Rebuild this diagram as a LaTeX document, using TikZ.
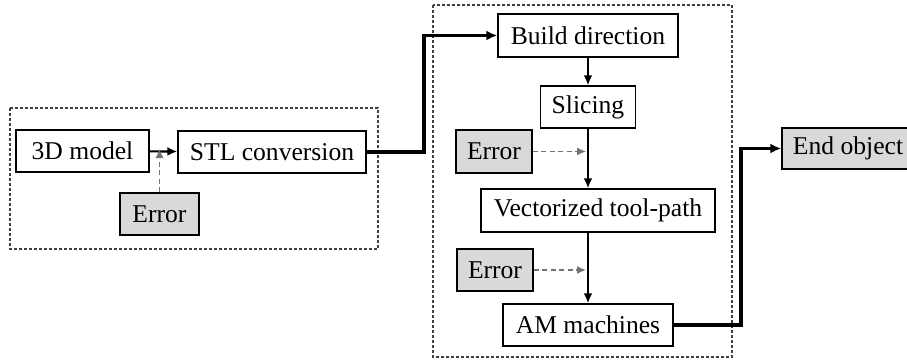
\documentclass[tikz,border=0pt]{standalone}
\usepackage{fontspec}
\setmainfont{Liberation Serif}
\usetikzlibrary{arrows.meta}
\definecolor{errfill}{HTML}{D9D9D9}
\begin{document}
\begin{tikzpicture}[x=1pt,y=-1pt,
  box/.style={draw=black,line width=1.4pt,fill=white,inner sep=0pt,minimum height=42pt,font=\fontsize{25.6}{30}\selectfont},
  errbox/.style={box,fill=errfill},
  thickarrow/.style={line width=3.4pt,-{Latex[length=11pt,width=10pt]}},
  flow/.style={line width=2.2pt,-{Latex[length=10pt,width=9pt]}},
  errarrow/.style={draw=black!55,line width=1.3pt,dash pattern=on 5pt off 3.5pt,-{Latex[length=9pt,width=8pt]}},
  group/.style={draw=black!75,line width=1.1pt,dash pattern=on 3pt off 2pt}]
\useasboundingbox (0,0) rectangle (907,359);
\draw[group] (10,108) rectangle (378,249);
\draw[group] (433,5) rectangle (732,357);
\node[box,minimum width=133pt] (model) at (82.5,151) {3D model};
\node[box,minimum width=188pt] (stl) at (272,152) {STL conversion};
\node[errbox,minimum width=79pt] (errL) at (159.5,214) {Error};
\node[box,minimum width=180pt,minimum height=43pt] (build) at (588,35.5) {Build direction};
\node[box,minimum width=95pt] (slice) at (588,107) {Slicing};
\node[errbox,minimum width=76pt,minimum height=43pt] (err1) at (494,151.5) {Error};
\node[box,minimum width=234pt,minimum height=43pt] (vec) at (598,210.5) {Vectorized tool-path};
\node[errbox,minimum width=76pt] (err2) at (495,270) {Error};
\node[box,minimum width=170pt] (am) at (588,325) {AM machines};
\node[errbox,minimum width=132pt,minimum height=41pt] (end) at (848,148.5) {End object};
\coordinate (c1) at (424,152);
\coordinate (c2) at (741,325);
\draw[flow] (model) -- (stl);
\draw[errarrow] (errL.north) -- ([yshift=2pt]errL.north |- model.east);
\draw[thickarrow] (stl.east) -- (c1) |- (build.west);
\draw[flow] (build) -- (slice);
\draw[flow] (slice.south) -- (slice.south |- vec.north);
\draw[flow] (slice.south |- vec.south) -- (am.north);
\draw[errarrow] (err1.east) -- ([xshift=-2pt]err1.east -| slice.south);
\draw[errarrow] (err2.east) -- ([xshift=-2pt]err2.east -| slice.south);
\draw[thickarrow] (am.east) -- (c2) |- (end.west);
\end{tikzpicture}
\end{document}
